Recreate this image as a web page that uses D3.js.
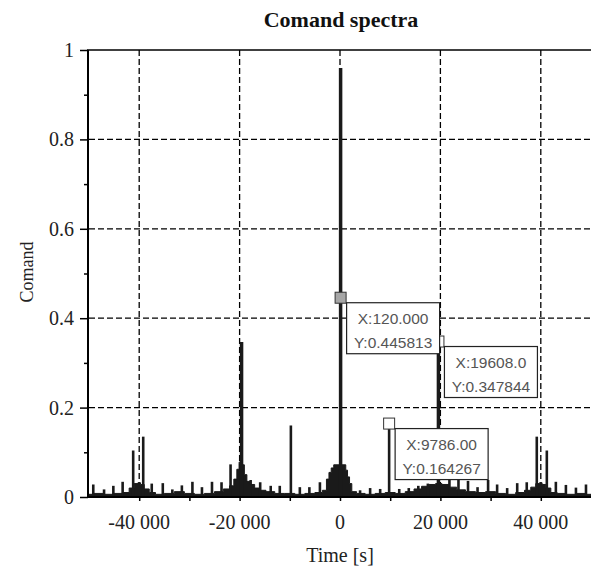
<!DOCTYPE html>
<html>
<head>
<meta charset="utf-8">
<script src="https://cdn.jsdelivr.net/npm/d3@7"></script>
<style>
  html, body { margin: 0; padding: 0; background: #fff; }
  svg { display: block; }
</style>
</head>
<body>
<svg id="chart" width="591" height="574"></svg>
<script>
// ---------- data ----------
const title = "Comand spectra";
const xLabel = "Time [s]";
const yLabel = "Comand";

const xTicksMajor = [-40000, -20000, 0, 20000, 40000];
const xTicksMinor = [-30000, -10000, 10000, 30000];
const xTickLabels = ["-40 000", "-20 000", "0", "20 000", "40 000"];
const yTicksMajor = [0, 0.2, 0.4, 0.6, 0.8, 1];
const yTicksMinor = [0.1, 0.3, 0.5, 0.7, 0.9];
const yTickLabels = ["0", "0.2", "0.4", "0.6", "0.8", "1"];

// noise floor of the spectrum (filled)
const floorTimes = [-50000,-48000,-46000,-44000,-42500,-41500,-40500,-40000,-39500,-38500,-37500,-36000,-34000,-32000,-30000,-28000,-26000,-24000,-22500,-21500,-20800,-20300,-19900,-19300,-18800,-18300,-17500,-16500,-15500,-14000,-12000,-10000,-8000,-6000,-4000,-3000,-2400,-2000,-1500,-1000,1000,1300,1700,2100,2600,4000,6000,8000,10000,12000,14000,15500,17000,18500,19600,21000,22500,24000,26000,28000,30000,32000,34000,36000,37500,38500,39500,40000,40500,41500,42500,44000,46000,48000,50000];
const floorValues = [0.006,0.008,0.006,0.008,0.010,0.020,0.030,0.032,0.028,0.018,0.010,0.006,0.008,0.012,0.008,0.006,0.008,0.012,0.018,0.025,0.040,0.062,0.078,0.072,0.050,0.035,0.028,0.020,0.015,0.012,0.008,0.008,0.006,0.008,0.010,0.015,0.040,0.055,0.065,0.072,0.072,0.060,0.045,0.030,0.012,0.008,0.006,0.008,0.010,0.008,0.012,0.018,0.024,0.028,0.030,0.028,0.022,0.016,0.012,0.010,0.012,0.008,0.006,0.010,0.015,0.022,0.030,0.032,0.028,0.020,0.010,0.008,0.006,0.008,0.006];

// spectral lines
const spikeTimes = [-49150,-47000,-45150,-43300,-41200,-39200,-37500,-35300,-33400,-31500,-29400,-27500,-25500,-23600,-21800,-19608,-17800,-15900,-13800,-12000,-9786,-8000,-6100,-4000,120,4000,6000,8000,9786,11800,13700,15600,17500,19608,21800,23600,25500,27400,29500,31300,33300,35300,37200,39200,41200,43000,45000,47000,49000];
const spikeValues = [0.028,0.017,0.025,0.034,0.104,0.135,0.030,0.031,0.017,0.026,0.034,0.022,0.034,0.033,0.073,0.347,0.038,0.033,0.025,0.025,0.160,0.022,0.022,0.033,0.960,0.015,0.020,0.018,0.164267,0.018,0.020,0.025,0.030,0.347844,0.073,0.038,0.036,0.022,0.038,0.028,0.020,0.031,0.033,0.135,0.104,0.034,0.027,0.021,0.028];

// data tips
const tipX = [120, 19608, 9786];
const tipY = [0.445813, 0.347844, 0.164267];
const tipXText = ["X:120.000", "X:19608.0", "X:9786.00"];
const tipYText = ["Y:0.445813", "Y:0.347844", "Y:0.164267"];

// ---------- drawing ----------
const svg = d3.select("#chart");
const W = 591, H = 574;
const x = d3.scaleLinear().domain([-50000, 50000]).range([89, 591]);
const y = d3.scaleLinear().domain([0, 1]).range([497, 50]);
const serif = "'Liberation Serif', 'Times New Roman', serif";
const sans = "'Liberation Sans', Arial, sans-serif";
const ink = "#1a1a1a";

svg.append("rect").attr("width", W).attr("height", H).attr("fill", "#fff");

// grid
const grid = svg.append("g").attr("stroke", "#000").attr("stroke-width", 1.3)
  .attr("stroke-dasharray", "6,3").attr("fill", "none");
grid.selectAll("line.v").data(xTicksMajor).join("line").attr("class", "v")
  .attr("x1", d => x(d)).attr("x2", d => x(d)).attr("y1", y(1)).attr("y2", y(0));
grid.selectAll("line.h").data(yTicksMajor.filter(d => d > 0 && d < 1)).join("line").attr("class", "h")
  .attr("x1", x(-50000)).attr("x2", x(50000)).attr("y1", d => y(d)).attr("y2", d => y(d));

// noise floor area
const pts = floorTimes.map((t, i) => [t, floorValues[i]]);
svg.append("path").datum(pts)
  .attr("fill", ink).attr("stroke", ink).attr("stroke-width", 1)
  .attr("d", d3.area().x(d => x(d[0])).y0(y(0)).y1(d => y(d[1])).curve(d3.curveStep));

// spikes
svg.append("g").selectAll("line").data(spikeTimes.map((t, i) => [t, spikeValues[i]])).join("line")
  .attr("x1", d => x(d[0])).attr("x2", d => x(d[0]))
  .attr("y1", y(0)).attr("y2", d => y(d[1]))
  .attr("stroke", ink)
  .attr("stroke-width", d => d[1] > 0.3 ? 3.5 : 2.6);

// axes
const xAxis = d3.axisBottom(x).tickValues(xTicksMajor.concat(xTicksMinor)).tickSize(4).tickFormat("");
const gx = svg.append("g").attr("transform", `translate(0,${y(0)})`).call(xAxis);
gx.select(".domain").remove();
gx.selectAll(".tick line").attr("stroke", "#000").attr("stroke-width", 1.5);

const gxl = svg.append("g").attr("font-family", serif).attr("font-size", 20).attr("fill", "#222");
gxl.selectAll("text").data(xTicksMajor).join("text")
  .attr("x", d => x(d)).attr("y", 529).attr("text-anchor", "middle")
  .text((d, i) => xTickLabels[i]);

const yAxisMajor = d3.axisLeft(y).tickValues(yTicksMajor).tickSize(8).tickFormat("");
const gy = svg.append("g").attr("transform", `translate(88,0)`).call(yAxisMajor);
gy.select(".domain").remove();
gy.selectAll(".tick line").attr("stroke", "#000").attr("stroke-width", 1.5);
const yAxisMinor = d3.axisLeft(y).tickValues(yTicksMinor).tickSize(4).tickFormat("");
const gy2 = svg.append("g").attr("transform", `translate(88,0)`).call(yAxisMinor);
gy2.select(".domain").remove();
gy2.selectAll(".tick line").attr("stroke", "#000").attr("stroke-width", 1.5);

const gyl = svg.append("g").attr("font-family", serif).attr("font-size", 20).attr("fill", "#222");
gyl.selectAll("text").data(yTicksMajor).join("text")
  .attr("x", 74).attr("y", d => y(d)).attr("dy", "0.35em").attr("text-anchor", "end")
  .text((d, i) => yTickLabels[i]);

// frame lines
svg.append("line").attr("x1", 88).attr("x2", 88).attr("y1", y(1)).attr("y2", y(0) + 1)
  .attr("stroke", "#000").attr("stroke-width", 2);
svg.append("line").attr("x1", 87).attr("x2", W).attr("y1", y(0)).attr("y2", y(0))
  .attr("stroke", "#000").attr("stroke-width", 2);
svg.append("line").attr("x1", 87).attr("x2", W).attr("y1", y(1)).attr("y2", y(1))
  .attr("stroke", "#000").attr("stroke-width", 1.6);

// data tip markers
const ms = 11;
tipX.forEach((t, i) => {
  svg.append("rect")
    .attr("x", x(t) - ms / 2).attr("y", y(tipY[i]) - ms / 2)
    .attr("width", ms).attr("height", ms)
    .attr("fill", i === 0 ? "#a6a6a6" : "#fff")
    .attr("stroke", "#333").attr("stroke-width", 1);
});
// data tip boxes
const bw = 93, bh = 51;
tipX.forEach((t, i) => {
  const bx = x(t) + 6, by = y(tipY[i]) + 5;
  const g = svg.append("g");
  g.append("rect").attr("x", bx).attr("y", by).attr("width", bw).attr("height", bh)
    .attr("fill", "#fff").attr("stroke", "#222").attr("stroke-width", 1.2);
  g.append("text").attr("x", bx + bw / 2).attr("y", by + 21).attr("text-anchor", "middle")
    .attr("font-family", sans).attr("font-size", 15.5).attr("fill", "#555").text(tipXText[i]);
  g.append("text").attr("x", bx + bw / 2).attr("y", by + 45).attr("text-anchor", "middle")
    .attr("font-family", sans).attr("font-size", 15.5).attr("fill", "#555").text(tipYText[i]);
});

// titles
svg.append("text").attr("x", 341).attr("y", 27).attr("text-anchor", "middle")
  .attr("font-family", serif).attr("font-weight", "bold").attr("font-size", 22).attr("fill", "#111")
  .text(title);
svg.append("text").attr("x", 340).attr("y", 562).attr("text-anchor", "middle")
  .attr("font-family", serif).attr("font-size", 20).attr("fill", "#222").text(xLabel);
svg.append("text").attr("transform", "translate(33,272) rotate(-90)").attr("text-anchor", "middle")
  .attr("font-family", serif).attr("font-size", 18).attr("fill", "#222").text(yLabel);
</script>
</body>
</html>
